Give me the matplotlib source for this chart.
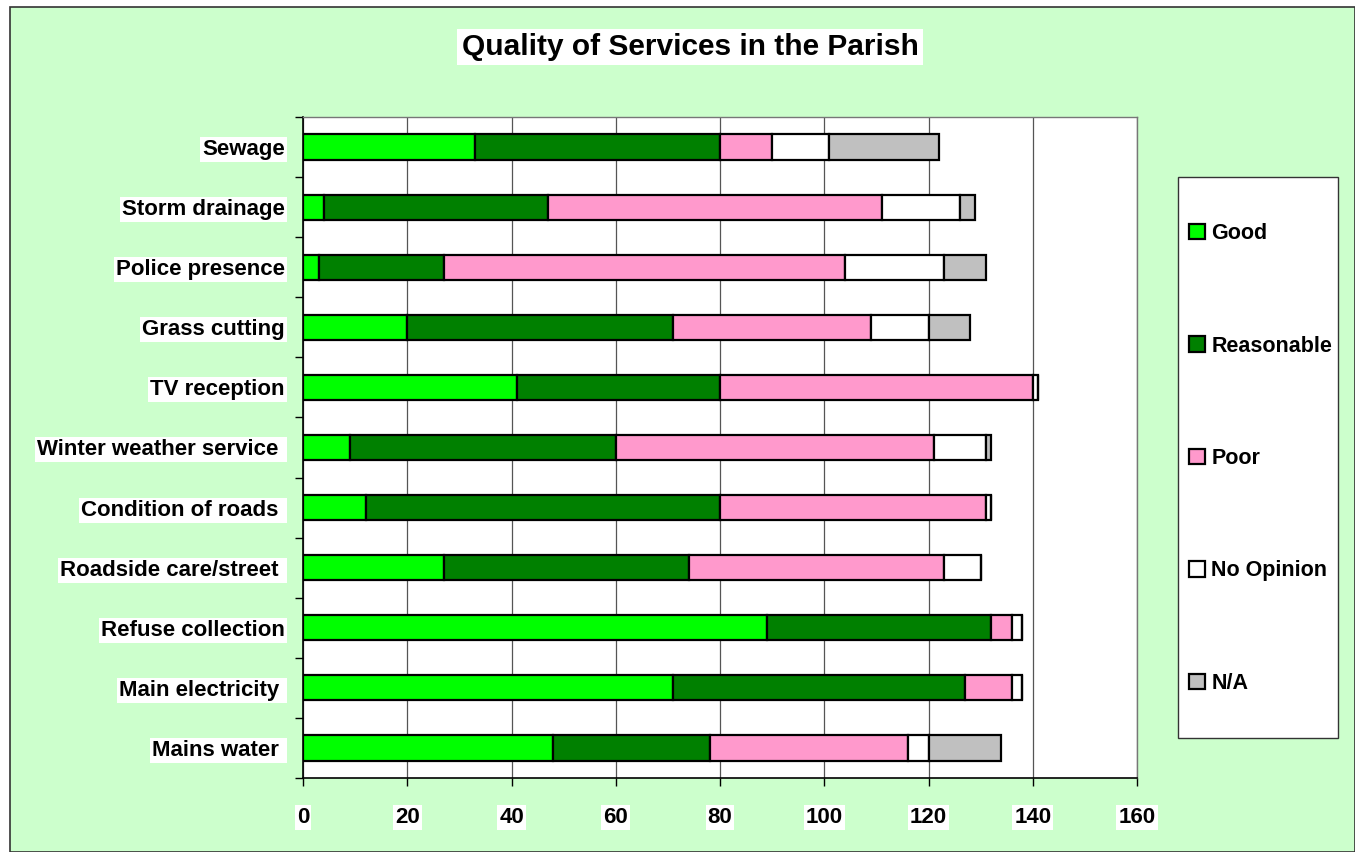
import numpy as np
import matplotlib.pyplot as plt
from matplotlib.patches import Rectangle

plt.rcParams['font.family'] = ['Liberation Sans', 'DejaVu Sans']

# categories, top to bottom as shown
services = ['Sewage', 'Storm drainage', 'Police presence', 'Grass cutting', 'TV reception',
            'Winter weather service ', 'Condition of roads ', 'Roadside care/street ',
            'Refuse collection', 'Main electricity ', 'Mains water ']
good = [33, 4, 3, 20, 41, 9, 12, 27, 89, 71, 48]
reasonable = [47, 43, 24, 51, 39, 51, 68, 47, 43, 56, 30]
poor = [10, 64, 77, 38, 60, 61, 51, 49, 4, 9, 38]
no_opinion = [11, 15, 19, 11, 1, 10, 1, 7, 2, 2, 4]
na = [21, 3, 8, 8, 0, 1, 0, 0, 0, 0, 14]

series = [('Good', good, '#00FF00'),
          ('Reasonable', reasonable, '#008000'),
          ('Poor', poor, '#FF99CC'),
          ('No Opinion', no_opinion, '#FFFFFF'),
          ('N/A', na, '#C0C0C0')]

W, H = 1355, 852
fig = plt.figure(figsize=(W / 100, H / 100), dpi=100, facecolor='white')

# chart area background and border
fig.patches.append(Rectangle((10 / W, 0), 1 - 10 / W, 1 - 7 / H, transform=fig.transFigure,
                             facecolor='#CCFFCC', edgecolor='#333333', linewidth=1.2, zorder=-5))

ax = fig.add_axes([303 / W, 1 - 778 / H, (1137 - 303) / W, (778 - 117) / H])
ax.set_facecolor('white')

y = np.arange(len(services))
left = np.zeros(len(services))
handles = []
for name, vals, col in series:
    vals = np.array(vals, dtype=float)
    b = ax.barh(y, vals, left=left, height=0.42, color=col, edgecolor='black',
                linewidth=1.6, label=name, zorder=3)
    handles.append(b)
    left += vals

ax.set_xlim(0, 160)
ax.set_ylim(len(services) - 0.5, -0.5)
ax.set_xticks(np.arange(0, 161, 20))
ax.xaxis.grid(True, color='#555555', linewidth=0.9, zorder=0)
ax.set_axisbelow(True)

ax.set_yticks(y)
ax.set_yticklabels(services)
ax.set_yticks(np.arange(-0.5, len(services), 1), minor=True)
ax.tick_params(axis='y', which='major', length=0, pad=13)
ax.tick_params(axis='y', which='minor', length=6, width=1, direction='out')
ax.tick_params(axis='x', length=6, width=1, direction='out', pad=15)

for lbl in ax.get_yticklabels():
    lbl.set_fontsize(16)
    lbl.set_fontweight('bold')
    lbl.set_bbox(dict(facecolor='white', edgecolor='none', pad=1.5))
for lbl in ax.get_xticklabels():
    lbl.set_fontsize(16)
    lbl.set_fontweight('bold')
    lbl.set_bbox(dict(facecolor='white', edgecolor='none', pad=1.5))

for s in ['left', 'bottom']:
    ax.spines[s].set_color('black')
    ax.spines[s].set_linewidth(1.2)
for s in ['top', 'right']:
    ax.spines[s].set_color('#777777')
    ax.spines[s].set_linewidth(1.0)

fig.text(690 / W, 1 - 47 / H, 'Quality of Services in the Parish', ha='center', va='center',
         fontsize=21.5, fontweight='bold',
         bbox=dict(facecolor='white', edgecolor='none', pad=3))

# legend box
fig.patches.append(Rectangle((1178 / W, 1 - 738 / H), 160 / W, 561 / H, transform=fig.transFigure,
                             facecolor='white', edgecolor='#333333', linewidth=1.0, zorder=1))
leg = fig.legend(handles=handles, loc='center left', bbox_to_anchor=(1180 / W, 1 - 458.5 / H),
                 frameon=False, prop={'weight': 'bold', 'size': 15.5}, labelspacing=4.25,
                 handlelength=0.75, handleheight=0.75, handletextpad=0.3, borderaxespad=0)
leg.set_zorder(5)

fig.savefig('out.png', dpi=100, facecolor=fig.get_facecolor())
